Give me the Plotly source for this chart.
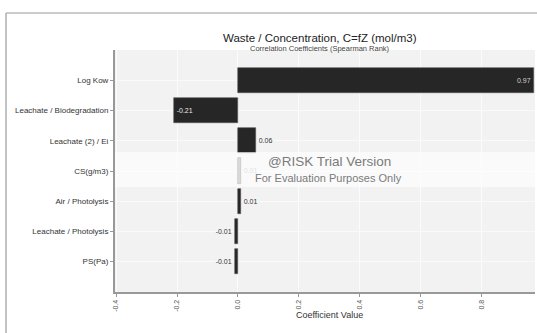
import plotly.graph_objects as go

categories = ["Log Kow", "Leachate / Biodegradation", "Leachate (2) / Ei", "CS(g/m3)",
              "Air / Photolysis", "Leachate / Photolysis", "PS(Pa)"]
values = [0.97, -0.21, 0.06, 0.01, 0.01, -0.01, -0.01]
labels = ["0.97", "-0.21", "0.06", "0.01", "0.01", "-0.01", "-0.01"]
x_ticks = [-0.4, -0.2, 0.0, 0.2, 0.4, 0.6, 0.8, 1.0]
x_ticktext = ["-0.4", "-0.2", "0.0", "0.2", "0.4", "0.6", "0.8", "1.0"]

positions = list(range(len(categories)))
bar_colors = ["#262626", "#262626", "#262626", "#a3a3a3", "#262626", "#262626", "#262626"]
text_colors = ["#d0d0d0", "#e8e8e8", "#333333", "#b0b0b0", "#333333", "#333333", "#333333"]
text_pos = ["inside", "inside", "outside", "outside", "outside", "outside", "outside"]

FONT = "Liberation Sans"

fig = go.Figure()
fig.add_trace(go.Bar(
    y=positions, x=values, orientation="h", width=0.83,
    marker=dict(color=bar_colors, line=dict(color="#555555", width=0.6)),
    text=labels, textposition=text_pos, insidetextanchor="end",
    textfont=dict(size=7, color=text_colors, family=FONT),
    constraintext="none", cliponaxis=False, hoverinfo="skip",
))

L, T, B, R = 115, 50, 41, 2
W, H = 537, 333
pw, ph = W - L - R, H - T - B

def px(x):
    return (x - L) / pw

def py(y):
    return (H - B - y) / ph

fig.update_layout(
    width=W, height=H,
    margin=dict(l=L, r=R, t=T, b=B, pad=0),
    paper_bgcolor="#ffffff", plot_bgcolor="#f2f2f2",
    showlegend=False, bargap=0,
    font=dict(family=FONT, color="#333333"),
    xaxis=dict(range=[-0.4033, 0.974], tickvals=x_ticks, ticktext=x_ticktext,
               tickangle=-90, tickfont=dict(size=7, color="#555555"),
               showgrid=True, gridcolor="#fbfbfb", gridwidth=1.2, zeroline=False,
               showline=True, linecolor="#999999", linewidth=2,
               ticks="outside", ticklen=3, tickcolor="#999999"),
    yaxis=dict(range=[7.01, -1.01], tickvals=positions, ticktext=categories,
               tickfont=dict(size=8, color="#333333"),
               showgrid=True, gridcolor="#fafafa", gridwidth=1.2, zeroline=False,
               showline=True, linecolor="#999999", linewidth=2,
               ticks="outside", ticklen=3, tickcolor="#999999"),
    annotations=[
        dict(text="Waste / Concentration, C=fZ (mol/m3)", x=px(320), y=py(30),
             xref="paper", yref="paper", showarrow=False,
             font=dict(size=11.5, color="#222222", family=FONT)),
        dict(text="Correlation Coefficients (Spearman Rank)", x=px(319.5), y=py(42),
             xref="paper", yref="paper", showarrow=False,
             font=dict(size=7.5, color="#444444", family=FONT)),
        dict(text="Coefficient Value", x=px(329.5), y=py(322),
             xref="paper", yref="paper", showarrow=False,
             font=dict(size=9, color="#333333", family=FONT)),
        dict(text="@RISK Trial Version", x=px(329), y=py(161),
             xref="paper", yref="paper", showarrow=False,
             font=dict(size=13.5, color="#7a7a7a", family=FONT)),
        dict(text="For Evaluation Purposes Only", x=px(328), y=py(178),
             xref="paper", yref="paper", showarrow=False,
             font=dict(size=11, color="#7a7a7a", family=FONT)),
    ],
    shapes=[
        dict(type="rect", xref="paper", yref="paper", x0=0, x1=1, y0=py(187), y1=py(152),
             fillcolor="rgba(255,255,255,0.6)", line=dict(width=0), layer="above"),
        dict(type="line", xref="paper", yref="paper", x0=px(6), x1=px(537),
             y0=py(13), y1=py(13), line=dict(color="#9a9a9a", width=1.2), layer="above"),
        dict(type="line", xref="paper", yref="paper", x0=px(6), x1=px(6),
             y0=py(13), y1=py(333), line=dict(color="#9a9a9a", width=1.2), layer="above"),
    ],
)

fig.write_html("out.html")
